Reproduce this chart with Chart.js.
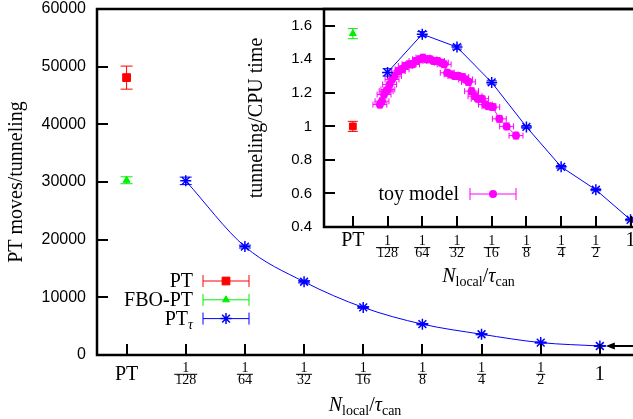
<!DOCTYPE html>
<html>
<head>
<meta charset="utf-8">
<script src="https://cdn.jsdelivr.net/npm/chart.js@4.4.0/dist/chart.umd.min.js"></script>
<style>
  html, body { margin: 0; padding: 0; background: #fff; overflow: hidden; }
  #wrap { position: relative; width: 633px; height: 419px; }
  #mainChart { position: absolute; left: 0; top: 0; }
  #insetChart { position: absolute; left: 240px; top: 0; }
</style>
</head>
<body>
<div id="wrap">
  <canvas id="mainChart" width="633" height="419"></canvas>
  <canvas id="insetChart" width="393" height="290"></canvas>
</div>
<script>
// categories along both x axes (PT, then N_local/tau_can = 1/128 ... 1)
const xTickPos = [0, 1, 2, 3, 4, 5, 6, 7, 8];
const xTickLabels = ['PT', '1/128', '1/64', '1/32', '1/16', '1/8', '1/4', '1/2', '1'];

// main panel: PT moves per tunneling
const mainYTicks = [0, 10000, 20000, 30000, 40000, 50000, 60000];
const ptMoves = [48100];
const ptMovesErr = [2000];
const fboMoves = [30300];
const fboMovesErr = [600];
const tauX = [1, 2, 3, 4, 5, 6, 7, 8];
const tauMoves = [30200, 18800, 12700, 8250, 5350, 3600, 2150, 1560];
const tauMovesErr = [650, 250, 200, 150, 120, 100, 80, 80];

// inset: tunneling per CPU time
const insetYTicks = [0.4, 0.6, 0.8, 1.0, 1.2, 1.4, 1.6];
const ptRate = [1.0];
const ptRateErr = [0.03];
const fboRate = [1.553];
const fboRateErr = [0.03];
const tauRate = [1.322, 1.55, 1.473, 1.262, 0.997, 0.759, 0.622, 0.443];
const tauRateErr = [0.022, 0.015, 0.012, 0.01, 0.008, 0.008, 0.006, 0.006];
const toyX = [0.78, 0.84, 0.90, 0.96, 1.01, 1.06, 1.13, 1.20, 1.31, 1.42, 1.51, 1.62, 1.72, 1.82,
              1.92, 2.02, 2.12, 2.22, 2.33, 2.44, 2.55, 2.63, 2.72, 2.83, 2.94, 3.04, 3.14, 3.25,
              3.33, 3.42, 3.52, 3.61, 3.71, 3.82, 3.92, 4.03, 4.22, 4.43, 4.70];
const toyRate = [1.13, 1.15, 1.19, 1.21, 1.22, 1.25, 1.28, 1.30, 1.33, 1.34, 1.36, 1.37, 1.37, 1.39,
                 1.40, 1.41, 1.40, 1.40, 1.39, 1.39, 1.38, 1.37, 1.32, 1.31, 1.30, 1.30, 1.295, 1.28,
                 1.265, 1.21, 1.18, 1.165, 1.165, 1.13, 1.12, 1.115, 1.045, 1.00, 0.945];
const toyXErr = toyX.map(() => 0.2);
const toyRateErr = toyX.map(() => 0.02);

const serif = '"Liberation Serif", "Times New Roman", serif';
const big = '20px ' + serif;
const bigIt = 'italic 20px ' + serif;
const small = '14px ' + serif;
const smallIt = 'italic 14px ' + serif;
const xTitleRuns = [['N', bigIt, 0], ['local', small, 4], ['/', big, 0], ['\u03c4', bigIt, 0], ['can', small, 4]];

Chart.defaults.font.family = '"Liberation Sans", Arial, sans-serif';
Chart.defaults.color = '#000';

function pts(xs, ys) { return xs.map((x, i) => ({ x: x, y: ys[i] })); }

// text made of runs with their own font and baseline shift (subscripts)
function drawRuns(ctx, runs, x, y, align) {
  let total = 0;
  runs.forEach(r => { ctx.font = r[1]; total += ctx.measureText(r[0]).width; });
  let cx = align === 'center' ? x - total / 2 : align === 'right' ? x - total : x;
  ctx.textAlign = 'left';
  ctx.textBaseline = 'alphabetic';
  runs.forEach(r => {
    ctx.font = r[1];
    ctx.fillText(r[0], cx, y + r[2]);
    cx += ctx.measureText(r[0]).width;
  });
}

function labelRuns(label) {
  const p = label.split('_');
  return p.length > 1 ? [[p[0], big, 0], [p[1], smallIt, 4]] : [[label, big, 0]];
}

// tick label, stacked as a fraction when it has a slash
function drawTickLabel(ctx, label, cx, axisY, f) {
  const parts = label.split('/');
  ctx.fillStyle = '#000';
  ctx.textAlign = 'center';
  ctx.textBaseline = 'middle';
  if (parts.length === 1) {
    ctx.font = big;
    ctx.fillText(label, cx, axisY + f.word);
    return;
  }
  ctx.font = small;
  ctx.fillText(parts[0], cx, axisY + f.num);
  ctx.fillText(parts[1], cx, axisY + f.den);
  const w = Math.max(ctx.measureText(parts[0]).width, ctx.measureText(parts[1]).width) + 2;
  ctx.fillRect(cx - w / 2, axisY + f.bar - 0.5, w, 1);
}

// gnuplot-like error bars with caps
const errorBars = {
  id: 'errorBars',
  beforeDatasetsDraw(chart) {
    const { ctx, scales: { x, y } } = chart;
    chart.data.datasets.forEach((ds, i) => {
      ctx.save();
      ctx.strokeStyle = ds.borderColor;
      ctx.lineWidth = 1;
      ctx.beginPath();
      ds.data.forEach((p, j) => {
        const px = x.getPixelForValue(p.x);
        const py = y.getPixelForValue(p.y);
        if (ds.yErr) {
          const t = y.getPixelForValue(p.y + ds.yErr[j]);
          const b = y.getPixelForValue(p.y - ds.yErr[j]);
          const c = ds.capW || 6;
          ctx.moveTo(px, t); ctx.lineTo(px, b);
          ctx.moveTo(px - c, t); ctx.lineTo(px + c, t);
          ctx.moveTo(px - c, b); ctx.lineTo(px + c, b);
        }
        if (ds.xErr) {
          const l = x.getPixelForValue(p.x - ds.xErr[j]);
          const r = x.getPixelForValue(p.x + ds.xErr[j]);
          ctx.moveTo(l, py); ctx.lineTo(r, py);
          ctx.moveTo(l, py - 3); ctx.lineTo(l, py + 3);
          ctx.moveTo(r, py - 3); ctx.lineTo(r, py + 3);
        }
      });
      ctx.stroke();
      ctx.restore();
    });
  }
};

// border, inward ticks, stacked x labels, x title, key and arrow
const frame = {
  id: 'frame',
  afterDraw(chart, args, o) {
    const { ctx, chartArea: a, scales: { x, y } } = chart;
    ctx.save();
    ctx.strokeStyle = '#000';
    ctx.lineWidth = 2;
    ctx.beginPath();
    y.ticks.forEach(t => {
      const py = Math.round(y.getPixelForValue(t.value));
      ctx.moveTo(a.left, py); ctx.lineTo(a.left + 11, py);
    });
    x.ticks.forEach(t => {
      const px = Math.round(x.getPixelForValue(t.value));
      ctx.moveTo(px, a.bottom); ctx.lineTo(px, a.bottom - 11);
    });
    ctx.stroke();
    ctx.lineWidth = 2.5;
    ctx.beginPath();
    ctx.moveTo(a.right + 10, a.top); ctx.lineTo(a.left, a.top);
    ctx.lineTo(a.left, a.bottom); ctx.lineTo(a.right + 10, a.bottom);
    ctx.stroke();

    x.ticks.forEach((t, i) => {
      drawTickLabel(ctx, o.labels[i], x.getPixelForValue(t.value), a.bottom, o.tickOff);
    });
    ctx.fillStyle = '#000';
    drawRuns(ctx, xTitleRuns, (a.left + a.right) / 2, o.titleY, 'center');

    // key: text right-aligned, then an error-bar sample with the marker
    chart.data.datasets.forEach((ds, i) => {
      if (ds.keyRow === undefined) return;
      const ky = o.key.y + ds.keyRow * o.key.dy;
      ctx.fillStyle = '#000';
      drawRuns(ctx, labelRuns(ds.label), o.key.textRight, ky + 6, 'right');
      ctx.strokeStyle = ds.borderColor;
      ctx.lineWidth = 1;
      ctx.beginPath();
      ctx.moveTo(o.key.from, ky); ctx.lineTo(o.key.to, ky);
      ctx.moveTo(o.key.from, ky - 6); ctx.lineTo(o.key.from, ky + 6);
      ctx.moveTo(o.key.to, ky - 6); ctx.lineTo(o.key.to, ky + 6);
      ctx.stroke();
      ctx.fillStyle = ds.pointBackgroundColor;
      ctx.strokeStyle = ds.pointBorderColor;
      ctx.lineWidth = ds.pointBorderWidth;
      Chart.helpers.drawPoint(ctx, {
        pointStyle: ds.pointStyle, radius: ds.pointRadius, rotation: 0, borderWidth: ds.pointBorderWidth
      }, (o.key.from + o.key.to) / 2, ky);
    });

    if (o.arrow) {
      const x0 = x.getPixelForValue(o.arrow.x0);
      const x1 = x.getPixelForValue(o.arrow.x1);
      const ay = y.getPixelForValue(o.arrow.y);
      ctx.strokeStyle = '#000';
      ctx.fillStyle = '#000';
      ctx.lineWidth = 2;
      ctx.beginPath();
      ctx.moveTo(x0, ay); ctx.lineTo(x1 + 6, ay);
      ctx.stroke();
      ctx.beginPath();
      ctx.moveTo(x1, ay); ctx.lineTo(x1 + 9, ay - 3.5); ctx.lineTo(x1 + 9, ay + 3.5);
      ctx.closePath();
      ctx.fill();
    }
    ctx.restore();
  }
};

function marker(style, color, radius, bw) {
  return {
    pointStyle: style, pointRadius: radius, pointHoverRadius: radius,
    pointBackgroundColor: color, pointBorderColor: color, pointBorderWidth: bw,
    borderColor: color, backgroundColor: color
  };
}

function xScale(min, max, height) {
  return {
    type: 'linear', min: min, max: max,
    grid: { display: false, drawTicks: false },
    border: { display: false },
    ticks: { display: false },
    afterBuildTicks: s => { s.ticks = xTickPos.map(v => ({ value: v })); },
    afterFit: s => { s.height = height; s.paddingLeft = 0; s.paddingRight = 0; }
  };
}

function yScale(min, max, ticks, fontSize, pad, width, title) {
  return {
    type: 'linear', min: min, max: max,
    grid: { display: false, drawTicks: false },
    border: { display: false },
    afterBuildTicks: s => { s.ticks = ticks.map(v => ({ value: v })); },
    ticks: { padding: pad, font: { size: fontSize }, callback: v => String(+v.toFixed(1)) },
    title: { display: true, text: title, font: { family: serif, size: 20 }, padding: { top: 5, bottom: 0 } },
    afterFit: s => { s.width = width; s.paddingTop = 0; s.paddingBottom = 0; }
  };
}

new Chart(document.getElementById('mainChart'), {
  type: 'line',
  data: {
    datasets: [
      Object.assign({ label: 'PT', data: pts([0], ptMoves), yErr: ptMovesErr, showLine: false, keyRow: 0 },
        marker('rect', '#ff0000', 5.5, 1)),
      Object.assign({ label: 'FBO-PT', data: pts([0], fboMoves), yErr: fboMovesErr, showLine: false, keyRow: 1 },
        marker('triangle', '#00ee00', 4, 1)),
      Object.assign({ label: 'PT_\u03c4', data: pts(tauX, tauMoves), yErr: tauMovesErr, keyRow: 2,
        borderWidth: 1, cubicInterpolationMode: 'monotone' },
        marker('star', '#0000ff', 5.5, 1.5))
    ]
  },
  options: {
    responsive: false,
    animation: false,
    layout: { autoPadding: false, padding: { top: 9, right: 0, left: 0, bottom: 0 } },
    plugins: {
      legend: { display: false },
      tooltip: { enabled: false },
      frame: {
        labels: xTickLabels,
        tickOff: { word: 20, num: 13, bar: 19.3, den: 25.8 },
        titleY: 410.5,
        key: { y: 281, dy: 18.8, textRight: 193, from: 203, to: 249 },
        arrow: { x0: 8.62, x1: 8.1, y: tauMoves[tauMoves.length - 1] }
      }
    },
    scales: {
      x: xScale(-0.5, 8.56, 64),
      y: yScale(0, 60000, mainYTicks, 16, 11, 97, 'PT moves/tunneling')
    }
  },
  plugins: [errorBars, frame]
});

new Chart(document.getElementById('insetChart'), {
  type: 'line',
  data: {
    datasets: [
      Object.assign({ label: 'PT', data: pts([0], ptRate), yErr: ptRateErr, showLine: false, capW: 5 },
        marker('rect', '#ff0000', 4.8, 1)),
      Object.assign({ label: 'FBO-PT', data: pts([0], fboRate), yErr: fboRateErr, showLine: false, capW: 5 },
        marker('triangle', '#00ee00', 4, 1)),
      Object.assign({ label: 'PT_\u03c4', data: pts(tauX, tauRate), yErr: tauRateErr, capW: 5,
        borderWidth: 1, order: 0 },
        marker('star', '#0000ff', 5.5, 1.5)),
      Object.assign({ label: 'toy model', data: pts(toyX, toyRate), xErr: toyXErr, yErr: toyRateErr, capW: 3,
        borderWidth: 1, order: 1, keyRow: 0 },
        marker('circle', '#ff00ff', 4, 0))
    ]
  },
  options: {
    responsive: false,
    animation: false,
    layout: { autoPadding: false, padding: { top: 9, right: 0, left: 0, bottom: 0 } },
    plugins: {
      legend: { display: false },
      tooltip: { enabled: false },
      frame: {
        labels: xTickLabels,
        tickOff: { word: 14, num: 14, bar: 20.6, den: 26.6 },
        titleY: 281.5,
        key: { y: 194, dy: 19, textRight: 219, from: 230, to: 276 }
      }
    },
    scales: {
      x: xScale(-0.83, 8.07, 63),
      y: yScale(0.4, 1.7, insetYTicks, 15, 12, 84, 'tunneling/CPU time')
    }
  },
  plugins: [errorBars, frame]
});
</script>
</body>
</html>
